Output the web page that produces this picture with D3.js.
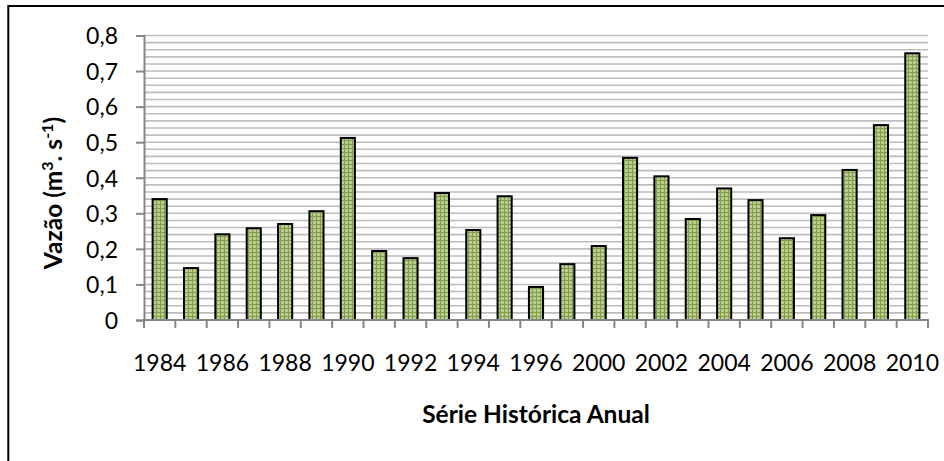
<!DOCTYPE html>
<html>
<head>
<meta charset="utf-8">
<script src="https://cdn.jsdelivr.net/npm/d3@7"></script>
<style>
  body { margin: 0; background: #fff; }
  text { font-family: Lato, "Open Sans", sans-serif; fill: #000; }
</style>
</head>
<body>
<div id="chart"></div>
<script>
// dados
const anos = ['1984','1985','1986','1987','1988','1989','1990','1991','1992','1993','1994','1995','1996','1997',
              '2000','2001','2002','2003','2004','2005','2006','2007','2008','2009','2010'];
const vazao = [0.340, 0.146, 0.241, 0.258, 0.270, 0.306, 0.512, 0.194, 0.174, 0.357, 0.253, 0.348, 0.093, 0.157,
               0.208, 0.456, 0.404, 0.284, 0.370, 0.337, 0.230, 0.295, 0.422, 0.548, 0.750];
const yTicks = [0, 0.1, 0.2, 0.3, 0.4, 0.5, 0.6, 0.7, 0.8];
const yMinor = d3.range(0, 41).map(i => i * 0.02);
const anosRotulo = anos.filter((d, i) => i % 2 == 0);

const W = 944, H = 461;
const plot = {left: 144, right: 928, top: 35.5, bottom: 320};

let svg = d3.select('#chart')
            .append('svg')
                .attr('width', W)
                .attr('height', H);

// padrão de preenchimento das barras
let pat = svg.append('defs')
             .append('pattern')
                .attr('id', 'grade')
                .attr('width', 4)
                .attr('height', 4)
                .attr('patternUnits', 'userSpaceOnUse');
pat.append('rect').attr('width', 4).attr('height', 4).attr('fill', '#b5ca8a');
pat.append('rect').attr('x', 0).attr('y', 0).attr('width', 4).attr('height', 1).attr('fill', '#849f4c');
pat.append('rect').attr('x', 0).attr('y', 0).attr('width', 1).attr('height', 4).attr('fill', '#849f4c');
pat.append('rect').attr('x', 2).attr('y', 2).attr('width', 1).attr('height', 1).attr('fill', '#cbdaae');

// moldura (só esquerda e topo visíveis)
svg.append('rect')
    .attr('x', 8.3).attr('y', 6)
    .attr('width', 1000).attr('height', 1000)
    .attr('fill', 'none')
    .attr('stroke', '#000')
    .attr('stroke-width', 2);

let xScale = d3.scaleBand()
               .domain(anos)
               .range([plot.left, plot.right])
               .padding(0);

let yScale = d3.scaleLinear()
               .domain([0, 0.8])
               .range([plot.bottom, plot.top]);

// linhas de grade
svg.append('g')
    .selectAll('line')
    .data(yMinor.filter(d => d > 0.001))
    .enter()
    .append('line')
        .attr('x1', plot.left)
        .attr('x2', plot.right)
        .attr('y1', d => yScale(d))
        .attr('y2', d => yScale(d))
        .attr('stroke', '#bdbdbd')
        .attr('stroke-width', 1.6);

// barras
let bw = xScale.bandwidth() * 0.45;
svg.append('g')
    .selectAll('rect')
    .data(vazao)
    .enter()
    .append('rect')
        .attr('x', (d, i) => xScale(anos[i]) + (xScale.bandwidth() - bw) / 2)
        .attr('y', d => yScale(d))
        .attr('width', bw)
        .attr('height', d => yScale(0) - yScale(d))
        .attr('fill', 'url(#grade)')
        .attr('stroke', '#000')
        .attr('stroke-width', 2);

// Eixo Y
let yAxis = d3.axisLeft(yScale)
              .tickValues(yTicks)
              .tickSize(8)
              .tickPadding(18)
              .tickFormat(d => d == 0 ? '0' : d3.format('.1f')(d).replace('.', ','));

let gy = svg.append('g')
            .attr('transform', `translate(${plot.left},0)`)
            .call(yAxis);
gy.select('.domain').attr('stroke', '#868686').attr('stroke-width', 2);
gy.selectAll('.tick line').attr('stroke', '#868686').attr('stroke-width', 2);
gy.selectAll('.tick text')
    .attr('font-family', 'Lato')
    .attr('font-size', '23px')
    .attr('dy', '0.36em');

// Eixo X
svg.append('line')
    .attr('x1', plot.left - 1)
    .attr('x2', plot.right + 1)
    .attr('y1', yScale(0))
    .attr('y2', yScale(0))
    .attr('stroke', '#868686')
    .attr('stroke-width', 2);

svg.append('g')
    .selectAll('line')
    .data(anos.concat(['fim']))
    .enter()
    .append('line')
        .attr('x1', (d, i) => plot.left + i * xScale.bandwidth())
        .attr('x2', (d, i) => plot.left + i * xScale.bandwidth())
        .attr('y1', yScale(0))
        .attr('y2', yScale(0) + 8)
        .attr('stroke', '#868686')
        .attr('stroke-width', 2);

svg.append('g')
    .selectAll('text')
    .data(anosRotulo)
    .enter()
    .append('text')
        .attr('x', d => xScale(d) + xScale.bandwidth() / 2)
        .attr('y', 370.5)
        .attr('text-anchor', 'middle')
        .attr('font-size', '23px')
        .text(d => d);

// títulos
svg.append('text')
    .attr('x', (plot.left + plot.right) / 2)
    .attr('y', 422.5)
    .attr('text-anchor', 'middle')
    .attr('font-size', '24.5px')
    .attr('font-weight', 'bold')
    .text('Série Histórica Anual');

let yt = svg.append('text')
    .attr('transform', 'translate(62,193) rotate(-90)')
    .attr('text-anchor', 'middle')
    .attr('font-size', '24.5px')
    .attr('font-weight', 'bold');
yt.append('tspan').text('Vazão (m');
yt.append('tspan').attr('font-size', '16px').attr('dy', '-9').text('3');
yt.append('tspan').attr('dy', '9').text('. s');
yt.append('tspan').attr('font-size', '16px').attr('dy', '-9').text('-1');
yt.append('tspan').attr('dy', '9').text(')');
</script>
</body>
</html>
